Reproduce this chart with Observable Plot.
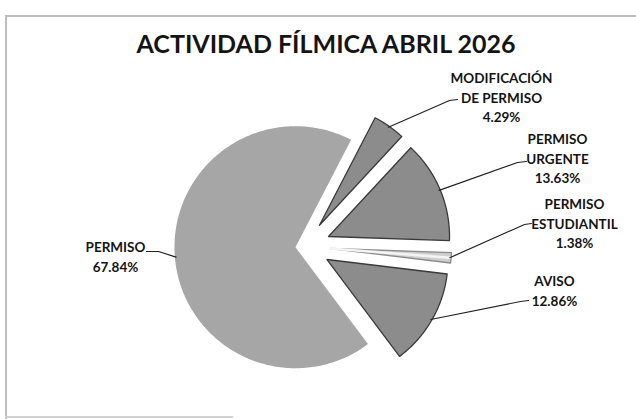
<!DOCTYPE html>
<html><head><meta charset="utf-8">
<script src="https://cdn.jsdelivr.net/npm/d3@7"></script>
<script src="https://cdn.jsdelivr.net/npm/@observablehq/plot@0.6"></script>
<style>
body{margin:0;background:#fff;width:636px;height:419px;overflow:hidden;position:relative;font-family:Lato,"Open Sans",sans-serif;}
.fr{position:absolute;background:#bdbdbd}
#title{position:absolute;left:0;top:31px;width:652px;text-align:center;font-weight:700;font-size:25px;line-height:25px;color:#141414;white-space:nowrap}
#chart{position:absolute;left:0;top:0}
</style></head><body>
<div class="fr" style="left:5px;top:15px;width:631px;height:2px"></div>
<div class="fr" style="left:5px;top:15px;width:2px;height:404px"></div>
<div class="fr" style="left:5px;top:416px;width:228px;height:2px;background:#cfcfcf"></div>
<div id="chart"></div>
<div id="title">ACTIVIDAD FÍLMICA ABRIL 2026</div>
<script>
// ---- data ----
const categories = ["MODIFICACIÓN DE PERMISO", "PERMISO URGENTE", "PERMISO ESTUDIANTIL", "AVISO", "PERMISO"];
const labelLines = [["MODIFICACIÓN", "DE PERMISO"], ["PERMISO", "URGENTE"], ["PERMISO", "ESTUDIANTIL"], ["AVISO"], ["PERMISO"]];
const percentages = [4.29, 13.63, 1.38, 12.86, 67.84];
const percentLabels = ["4.29%", "13.63%", "1.38%", "12.86%", "67.84%"];

// ---- layout ----
const W = 636, H = 419, CX = 304, CY = 246, R = 121;
const startDeg = 27.4;
const explode = [0.215, 0.215, 0.215, 0.215, 0.075];
const fills = ["#8c8c8c", "#8c8c8c", "#cfcfcf", "#8c8c8c", "#a6a6a6"];
const strokes = ["#3a3a3a", "#3a3a3a", "#8a8a8a", "#3a3a3a", "none"];
// label placement in pixels (converted to pie units below)
const labelLayout = [
  {text: [501, 96], elbow: [449, 100], end: [457, 99]},
  {text: [557, 157], elbow: [517, 162], end: [526, 161]},
  {text: [574, 222], elbow: [524, 224], end: [531, 223]},
  {text: [554, 289], elbow: [520, 301], end: [528, 300]},
  {text: [115, 255.5], elbow: [158, 251], end: [146, 251]}
];
const U = ([px, py]) => [(px - CX) / R, (py - CY) / R];

const a0 = startDeg * Math.PI / 180;
const arcs = d3.pie().sort(null).value(d => d).startAngle(a0).endAngle(a0 + 2 * Math.PI)(percentages);

const marks = [];
const leaders = [];
const labels = [];
arcs.forEach((a, i) => {
  const mid = (a.startAngle + a.endAngle) / 2;
  const ox = explode[i] * Math.sin(mid), oy = -explode[i] * Math.cos(mid);
  const pts = [{x: ox, y: oy}];
  const n = Math.max(2, Math.ceil((a.endAngle - a.startAngle) / (Math.PI / 180)));
  for (let k = 0; k <= n; k++) {
    const t = a.startAngle + (a.endAngle - a.startAngle) * k / n;
    pts.push({x: ox + Math.sin(t), y: oy - Math.cos(t)});
  }
  marks.push(Plot.line(pts, {x: "x", y: "y", curve: "linear-closed", fill: fills[i], stroke: strokes[i], strokeWidth: 1.3}));
  if (percentages[i] < 2) {
    marks.push(Plot.line([{x: ox, y: oy}, {x: ox + 0.99 * Math.sin(mid), y: oy - 0.99 * Math.cos(mid)}], {x: "x", y: "y", stroke: "#f4f4f4", strokeWidth: 2.5}));
  }
  const L = labelLayout[i];
  const s = {x: ox + 0.99 * Math.sin(mid), y: oy - 0.99 * Math.cos(mid)};
  const e = U(L.elbow), h = U(L.end);
  leaders.push({name: categories[i], x: s.x, y: s.y}, {name: categories[i], x: e[0], y: e[1]}, {name: categories[i], x: h[0], y: h[1]});
  const tp = U(L.text);
  labels.push({x: tp[0], y: tp[1], text: labelLines[i].concat([percentLabels[i]]).join("\n")});
});

marks.push(Plot.line(leaders, {x: "x", y: "y", z: "name", stroke: "#222", strokeWidth: 1.2}));
marks.push(Plot.text(labels, {x: "x", y: "y", text: "text", fontSize: 13.5, fontWeight: 700, lineHeight: 1.45, fill: "#141414", textAnchor: "middle"}));

const chart = Plot.plot({
  width: W, height: H, margin: 0,
  x: {domain: [-CX / R, (W - CX) / R], axis: null},
  y: {domain: [(H - CY) / R, -CY / R], axis: null},
  style: {background: "transparent", fontFamily: "Lato, 'Open Sans', sans-serif"},
  marks
});
document.getElementById("chart").appendChild(chart);
</script>
</body></html>
